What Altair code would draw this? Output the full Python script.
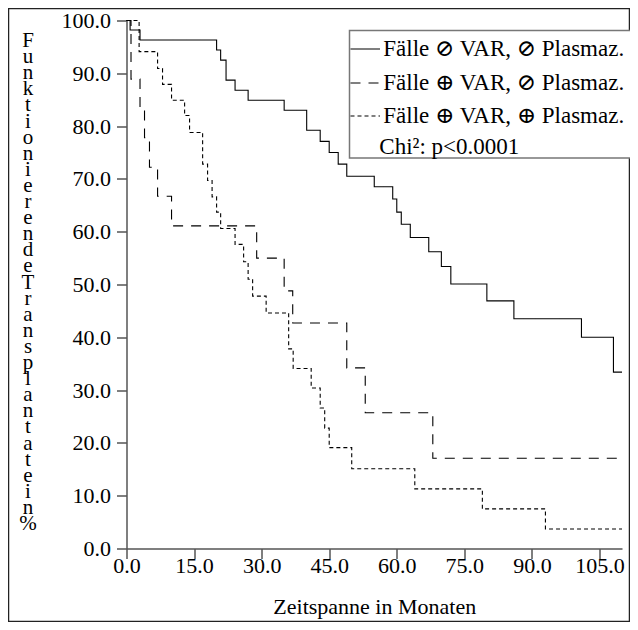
import altair as alt
import pandas as pd

# --- data (months, % functioning grafts) ---
labels = ["Fälle ⊘ VAR, ⊘ Plasmaz.", "Fälle ⊕ VAR, ⊘ Plasmaz.", "Fälle ⊕ VAR, ⊕ Plasmaz."]

months_none = [0, 0.8, 3.0, 20.0, 20.9, 22.1, 24.1, 27.0, 35.0, 40.0, 43.0, 45.0, 47.0, 48.9,
               55.0, 59.1, 60.0, 61.0, 63.0, 67.1, 69.9, 72.0, 80.0, 86.0, 101.0, 108.1, 110.0]
surv_none = [100, 98.2, 96.3, 94.4, 92.5, 88.7, 86.8, 84.9, 83.0, 79.2, 77.1, 75.0, 72.8, 70.5,
             68.5, 66.2, 63.7, 61.4, 58.9, 56.2, 53.4, 50.1, 46.9, 43.5, 40.0, 33.4, 33.4]

months_var = [0, 1.0, 3.0, 4.0, 5.1, 6.9, 10.0, 28.9, 35.0, 36.9, 48.9, 53.0, 68.0, 110.0]
surv_var = [100, 88.9, 83.3, 77.8, 72.2, 66.7, 61.1, 55.0, 48.8, 42.7, 34.2, 25.7, 17.1, 17.1]

months_both = [0, 2.8, 6.9, 8.0, 10.0, 12.9, 14.0, 16.9, 18.0, 19.0, 20.0, 20.9, 24.1, 26.0,
               27.0, 28.0, 31.0, 36.0, 37.0, 41.0, 43.0, 44.0, 45.0, 50.0, 64.0, 79.0, 93.0, 110.0]
surv_both = [100, 94.1, 90.9, 87.9, 84.9, 82.0, 78.8, 72.8, 69.7, 66.6, 63.7, 60.6, 57.6, 54.3,
             51.0, 47.8, 44.6, 37.8, 34.1, 30.4, 26.6, 22.8, 19.1, 15.1, 11.3, 7.5, 3.7, 3.7]

x_ticks = [0, 15, 30, 45, 60, 75, 90, 105]
y_ticks = [0, 10, 20, 30, 40, 50, 60, 70, 80, 90, 100]
x_title = "Zeitspanne in Monaten"
y_title = "Funktionierende Transplantate in %"
chi_text = "Chi²: p<0.0001"
dashes = [[1, 0], [10, 8], [4, 3]]

FONT = "'Liberation Serif', 'DejaVu Serif', serif"
W, H = 495.5, 528

rows = []
for lab, ms, vs in [(labels[0], months_none, surv_none),
                    (labels[1], months_var, surv_var),
                    (labels[2], months_both, surv_both)]:
    for m, v in zip(ms, vs):
        rows.append({"series": lab, "months": m, "surv": v})
df = pd.DataFrame(rows)
one = pd.DataFrame({"k": [0]})

y_title_stacked = "\n".join(c for c in y_title if c != " ")

curves = alt.Chart(df).mark_line(interpolate="step-after", color="black", strokeWidth=1.1).encode(
    x=alt.X("months:Q",
            scale=alt.Scale(domain=[0, 110], nice=False, zero=False),
            axis=alt.Axis(values=x_ticks, format=".1f", title=x_title,
                          titleY=58, titleBaseline="middle", titleFontSize=22,
                          labelPadding=-3, labelFlush=False)),
    y=alt.Y("surv:Q",
            scale=alt.Scale(domain=[0, 100], nice=False),
            axis=alt.Axis(values=y_ticks, format=".1f", title=None,
                          labelPadding=6, labelFlush=False)),
    strokeDash=alt.StrokeDash("series:N", scale=alt.Scale(domain=labels, range=dashes), legend=None),
    order="months:Q",
)

y_title_mark = alt.Chart(one).mark_text(
    align="center", baseline="alphabetic", font=FONT, fontSize=21,
    lineBreak="\n", lineHeight=16.1, color="black").encode(
    x=alt.value(-98.5), y=alt.value(26.5), text=alt.value(y_title_stacked))

frame = alt.Chart(one).mark_rect(filled=False, stroke="#222", strokeWidth=1.5).encode(
    x=alt.value(-118), x2=alt.value(503), y=alt.value(-12), y2=alt.value(601))

legend_box = alt.Chart(one).mark_rect(fill="white", stroke="#777", strokeWidth=1.5).encode(
    x=alt.value(223), x2=alt.value(510), y=alt.value(10), y2=alt.value(137.5))

row_y = [28.5, 62.5, 95.5]
layers = [frame, curves, y_title_mark, legend_box]
for i in range(3):
    layers.append(alt.Chart(one).mark_rule(color="black", strokeWidth=1.1, strokeDash=dashes[i]).encode(
        x=alt.value(224), x2=alt.value(253.5), y=alt.value(row_y[i])))
    layers.append(alt.Chart(one).mark_text(align="left", baseline="middle", font=FONT, fontSize=23,
                                           color="black").encode(
        x=alt.value(256.8), y=alt.value(row_y[i]), text=alt.value(labels[i])))
layers.append(alt.Chart(one).mark_text(align="left", baseline="middle", font=FONT, fontSize=23,
                                       color="black").encode(
    x=alt.value(252.8), y=alt.value(126), text=alt.value(chi_text)))

chart = alt.layer(*layers).properties(
    width=W, height=H,
    autosize=alt.AutoSizeParams(type="none"),
    padding={"left": 118.5, "top": 12.5, "right": 8, "bottom": 73.5},
).configure_view(stroke=None).configure_axis(
    grid=False,
    domainColor="#555", domainWidth=1.5,
    tickColor="#555", tickWidth=1.5, tickSize=10,
    labelFont=FONT, labelFontSize=22, labelColor="black",
    titleFont=FONT, titleFontWeight="normal", titleColor="black",
)

chart.save("out.html", embed_options={"renderer": "svg", "actions": False})
